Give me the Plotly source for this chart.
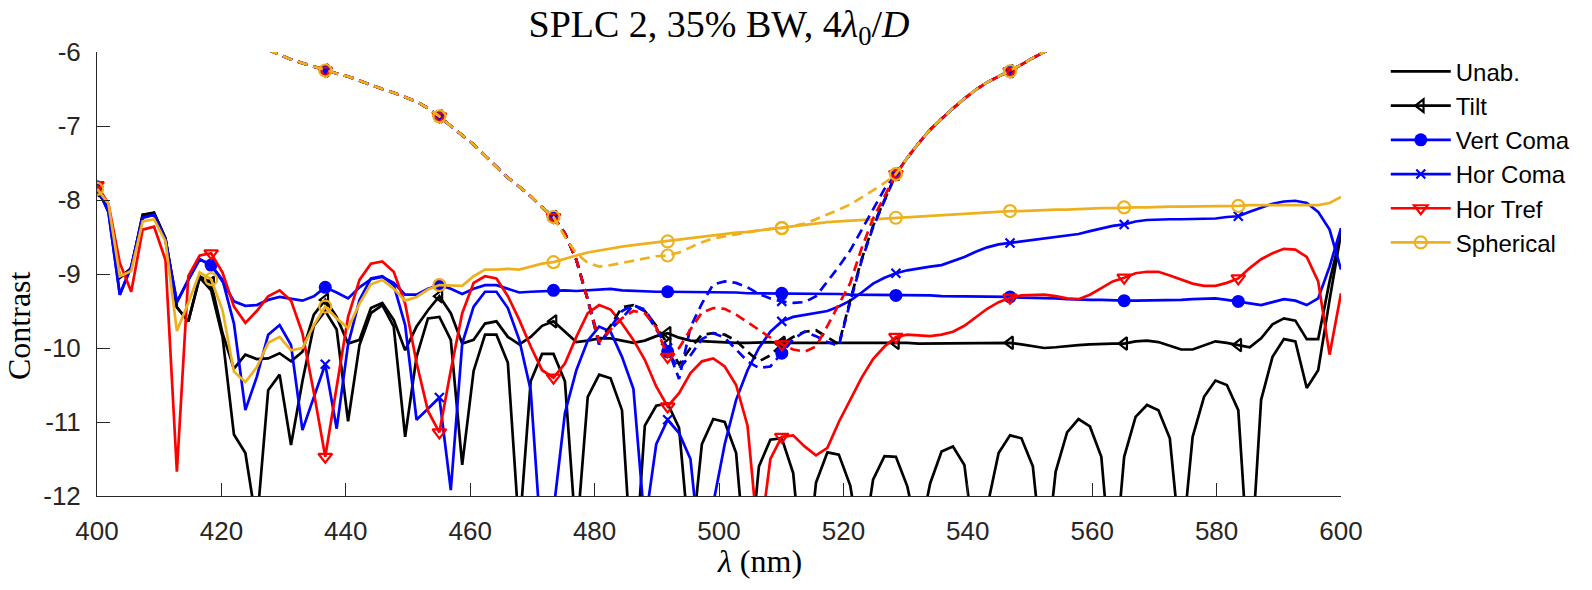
import numpy as np
import plotly.graph_objects as go

# wavelength samples (nm) and marker positions (every 10th sample)
lam = np.linspace(400, 600, 110)
marker_idx = list(range(0, 101, 10))
dash_marker_idx = list(range(20, 81, 10))

x_ticks = [400, 420, 440, 460, 480, 500, 520, 540, 560, 580, 600]
y_ticks = [-12, -11, -10, -9, -8, -7, -6]
y_ticktext = ["-12", "-11", "-10", "-9", "-8", "-7", "-6"]

unab = [
    -7.87, -8.10, -9.05, -8.92, -8.20, -8.18, -8.52, -9.45, -9.64, -9.05,
    -9.22, -9.85, -11.17, -11.42, -12.40, -10.57, -10.36, -11.31, -10.45, -9.70,
    -9.50, -9.75, -10.99, -9.96, -9.53, -9.42, -9.71, -11.20, -10.12, -9.60,
    -9.58, -9.89, -11.58, -10.31, -9.82, -9.82, -10.20, -12.50, -10.45, -10.08,
    -10.08, -10.45, -12.60, -10.66, -10.36, -10.41, -10.84, -13.30, -11.05, -10.78,
    -10.75, -11.08, -12.80, -11.30, -10.96, -11.00, -11.42, -13.20, -11.60, -11.24,
    -11.22, -11.69, -13.30, -11.82, -11.41, -11.44, -11.86, -12.80, -11.78, -11.46,
    -11.47, -11.87, -12.60, -11.83, -11.40, -11.33, -11.58, -12.80, -12.15, -11.42,
    -11.18, -11.22, -11.60, -13.10, -11.67, -11.14, -10.96, -11.06, -11.47, -13.24,
    -11.47, -10.93, -10.77, -10.84, -11.22, -12.80, -11.20, -10.66, -10.44, -10.50,
    -10.84, -13.20, -10.70, -10.12, -9.88, -9.91, -10.54, -10.30, -9.35, -8.45,
]

tilt = [
    -7.87, -8.12, -9.05, -8.93, -8.20, -8.17, -8.52, -9.45, -9.64, -9.03,
    -9.12, -9.80, -10.28, -10.09, -10.15, -10.14, -10.07, -10.18, -10.05, -9.55,
    -9.35, -9.58, -9.94, -9.89, -9.46, -9.39, -9.62, -10.03, -9.71, -9.49,
    -9.30, -9.53, -9.94, -9.89, -9.67, -9.64, -9.85, -9.95, -9.85, -9.70,
    -9.64, -9.78, -9.92, -9.90, -9.87, -9.87, -9.90, -9.93, -9.90, -9.84,
    -9.80, -9.86, -9.90, -9.91, -9.91, -9.92, -9.93, -9.93, -9.92, -9.92,
    -9.93, -9.93, -9.92, -9.92, -9.92, -9.93, -9.93, -9.93, -9.92, -9.92,
    -9.93, -9.93, -9.94, -9.94, -9.94, -9.93, -9.93, -9.93, -9.93, -9.93,
    -9.93, -9.95, -9.98, -10.00, -9.99, -9.97, -9.96, -9.95, -9.94, -9.94,
    -9.94, -9.91, -9.90, -9.92, -9.97, -10.02, -10.02, -9.97, -9.91, -9.93,
    -9.96, -9.99, -9.87, -9.68, -9.60, -9.63, -9.88, -9.88, -9.10, -8.45,
]

vert_coma = [
    -7.82, -8.16, -9.28, -8.90, -8.24, -8.20, -8.54, -9.38, -9.08, -8.80,
    -8.88, -9.10, -9.37, -9.43, -9.42, -9.35, -9.31, -9.33, -9.36, -9.30,
    -9.18, -9.25, -9.33, -9.18, -9.07, -9.04, -9.12, -9.28, -9.28, -9.20,
    -9.15, -9.20, -9.27, -9.20, -9.15, -9.15, -9.20, -9.25, -9.24, -9.23,
    -9.22, -9.22, -9.23, -9.22, -9.20, -9.20, -9.22, -9.23, -9.24, -9.24,
    -9.24, -9.24, -9.25, -9.25, -9.25, -9.25, -9.25, -9.26, -9.26, -9.26,
    -9.26, -9.27, -9.27, -9.27, -9.27, -9.27, -9.28, -9.28, -9.28, -9.28,
    -9.29, -9.29, -9.29, -9.29, -9.30, -9.30, -9.30, -9.30, -9.31, -9.31,
    -9.31, -9.32, -9.32, -9.32, -9.33, -9.34, -9.35, -9.35, -9.35, -9.36,
    -9.36, -9.36, -9.36, -9.36, -9.35, -9.35, -9.34, -9.33, -9.33, -9.35,
    -9.37, -9.39, -9.42, -9.38, -9.34, -9.36, -9.42, -9.33, -8.90, -8.38,
]

hor_coma = [
    -7.82, -8.16, -9.28, -8.90, -8.24, -8.20, -8.54, -9.38, -9.08, -8.80,
    -8.88, -9.08, -9.67, -10.84, -10.39, -9.82, -9.69, -9.96, -11.11, -10.65,
    -10.22, -11.09, -9.95, -9.35, -9.06, -9.03, -9.15, -9.69, -10.97, -10.82,
    -10.67, -11.92, -9.94, -9.44, -9.24, -9.24, -9.46, -9.89, -10.57, -12.80,
    -12.20, -10.88, -10.30, -9.90, -9.71, -9.78, -10.12, -10.55, -12.40, -11.30,
    -10.97, -11.15, -11.50, -13.00, -12.10, -11.30, -10.70, -10.30, -10.00, -9.78,
    -9.64, -9.58, -9.55, -9.53, -9.50, -9.44, -9.36, -9.25, -9.13, -9.05,
    -8.99, -8.95, -8.92, -8.90, -8.88, -8.83, -8.77, -8.70, -8.64, -8.60,
    -8.58, -8.56, -8.54, -8.52, -8.50, -8.49, -8.46, -8.42, -8.38, -8.35,
    -8.33, -8.29, -8.27, -8.26, -8.26, -8.26, -8.26, -8.26, -8.25, -8.23,
    -8.22, -8.16, -8.10, -8.05, -8.02, -8.01, -8.04, -8.16, -8.40, -8.94,
]

hor_tref = [
    -7.80, -8.05, -8.85, -9.24, -8.40, -8.36, -8.81, -11.67, -9.03, -8.75,
    -8.72, -8.98, -9.44, -9.66, -9.50, -9.30, -9.22, -9.36, -9.80, -10.60,
    -11.47, -10.50, -9.58, -9.08, -8.86, -8.83, -8.97, -9.40, -10.20, -10.85,
    -11.14, -10.30, -9.53, -9.12, -9.03, -9.06, -9.30, -9.62, -9.98, -10.30,
    -10.40, -10.21, -9.85, -9.53, -9.42, -9.48, -9.67, -9.89, -10.16, -10.52,
    -10.79, -10.61, -10.34, -10.18, -10.14, -10.25, -10.50, -11.05, -12.70, -11.50,
    -11.20, -11.18, -11.33, -11.45, -11.35, -11.00, -10.70, -10.40, -10.15, -9.98,
    -9.85, -9.82, -9.83, -9.84, -9.82, -9.78, -9.70, -9.58, -9.47, -9.38,
    -9.32, -9.29, -9.28, -9.28, -9.30, -9.33, -9.34, -9.28, -9.19, -9.10,
    -9.05, -8.99, -8.97, -8.97, -9.02, -9.08, -9.13, -9.16, -9.16, -9.12,
    -9.06, -8.92, -8.80, -8.72, -8.66, -8.67, -8.77, -9.10, -10.09, -9.26,
]

spherical = [
    -7.85, -8.05, -9.03, -8.96, -8.29, -8.26, -8.56, -9.77, -9.39, -8.98,
    -9.07, -9.49, -10.32, -10.46, -10.26, -9.93, -9.85, -10.03, -10.00, -9.69,
    -9.44, -9.60, -9.73, -9.40, -9.14, -9.08, -9.20, -9.36, -9.31, -9.21,
    -9.15, -9.16, -9.16, -9.03, -8.94, -8.94, -8.93, -8.94, -8.90, -8.86,
    -8.84, -8.79, -8.75, -8.71, -8.68, -8.66, -8.63, -8.61, -8.59, -8.57,
    -8.56, -8.54, -8.52, -8.50, -8.47, -8.46, -8.44, -8.43, -8.41, -8.39,
    -8.38, -8.36, -8.33, -8.31, -8.30, -8.29, -8.28, -8.27, -8.26, -8.25,
    -8.24, -8.23, -8.22, -8.21, -8.20, -8.19, -8.18, -8.17, -8.16, -8.16,
    -8.15, -8.15, -8.14, -8.14, -8.13, -8.13, -8.12, -8.12, -8.11, -8.11,
    -8.10, -8.10, -8.10, -8.09, -8.09, -8.09, -8.09, -8.08, -8.08, -8.08,
    -8.08, -8.07, -8.07, -8.07, -8.07, -8.07, -8.07, -8.07, -8.04, -7.96,
]

# dashed companion curves (samples 15..84)
dash_first = 15
dash_common_left = [  # samples 15..43
    -5.97, -6.04, -6.10, -6.15, -6.20, -6.25, -6.29, -6.33, -6.39, -6.44,
    -6.50, -6.55, -6.61, -6.67, -6.76, -6.87, -7.00, -7.12, -7.25, -7.40,
    -7.55, -7.70, -7.82, -7.95, -8.10, -8.23, -8.45, -8.81, -9.35,
]
dash_common_right = [  # samples 70..84
    -7.65, -7.43, -7.23, -7.05, -6.90, -6.76, -6.63, -6.51, -6.41, -6.33,
    -6.26, -6.17, -6.08, -6.00, -5.92,
]
dash_black_mid = [  # samples 44..69
    -9.90, -9.70, -9.45, -9.42, -9.50, -9.70, -9.95, -10.22, -10.00, -9.82,
    -9.80, -9.82, -9.90, -10.05, -10.18, -10.10, -9.95, -9.85, -9.78, -9.76,
    -9.85, -9.95, -9.35, -8.80, -8.35, -8.00,
]
dash_vert_mid = [  # samples 44..69
    -9.95, -9.72, -9.50, -9.42, -9.48, -9.72, -10.05, -10.28, -10.10, -9.88,
    -9.80, -9.86, -10.02, -10.18, -10.27, -10.25, -10.07, -9.88, -9.78, -9.84,
    -9.92, -9.97, -9.38, -8.82, -8.37, -8.02,
]
dash_hor_mid = [  # samples 44..69
    -9.95, -9.75, -9.60, -9.42, -9.50, -9.75, -10.00, -10.42, -9.72, -9.40,
    -9.14, -9.10, -9.12, -9.18, -9.27, -9.33, -9.37, -9.39, -9.38, -9.30,
    -9.10, -8.90, -8.68, -8.40, -8.11, -7.85,
]
dash_tref_mid = [  # samples 44..69
    -9.92, -9.75, -9.60, -9.50, -9.53, -9.72, -10.12, -10.00, -9.75, -9.52,
    -9.46, -9.47, -9.55, -9.65, -9.76, -9.86, -9.95, -10.02, -10.05, -9.98,
    -9.70, -9.40, -9.12, -8.65, -8.25, -7.95,
]
dash_sph_mid = [  # samples 41..69
    -8.50, -8.72, -8.85, -8.90, -8.88, -8.85, -8.82, -8.78, -8.76, -8.75,
    -8.71, -8.64, -8.57, -8.52, -8.49, -8.46, -8.43, -8.41, -8.39, -8.38,
    -8.35, -8.32, -8.26, -8.20, -8.13, -8.06, -7.97, -7.87, -7.77,
]

BLACK = "#000000"
BLUE = "#0000FF"
RED = "#FF0000"
ORANGE = "#EDB120"
LW = 2.7

styles = {
    "Unab.": dict(color=BLACK, symbol=None),
    "Tilt": dict(color=BLACK, symbol="triangle-left-open", size=11),
    "Vert Coma": dict(color=BLUE, symbol="circle", size=13),
    "Hor Coma": dict(color=BLUE, symbol="x-thin", size=9),
    "Hor Tref": dict(color=RED, symbol="triangle-down-open", size=12),
    "Spherical": dict(color=ORANGE, symbol="circle-open", size=12),
}


def marker_spec(st):
    sym = st["symbol"]
    if sym == "circle":
        return dict(symbol=sym, size=st["size"], color=st["color"], line=dict(width=0))
    return dict(symbol=sym, size=st["size"], color=st["color"],
                line=dict(width=2.2, color=st["color"]))


fig = go.Figure()


def add_series(name, xs, ys, idx, dash):
    st = styles[name]
    fig.add_trace(go.Scatter(
        x=xs, y=ys, mode="lines", showlegend=False, hoverinfo="skip",
        line=dict(color=st["color"], width=LW, dash=dash)))
    if st["symbol"] is not None and idx:
        fig.add_trace(go.Scatter(
            x=[xs[k] for k in idx], y=[ys[k] for k in idx], mode="markers",
            showlegend=False, marker=marker_spec(st), hoverinfo="skip"))


solid = [("Unab.", unab), ("Tilt", tilt), ("Vert Coma", vert_coma),
         ("Hor Coma", hor_coma), ("Hor Tref", hor_tref), ("Spherical", spherical)]
for name, vals in solid:
    add_series(name, list(lam), vals, marker_idx, "solid")

# dashed companions
lam_d = list(lam[dash_first:85])
d_idx = [k - dash_first for k in dash_marker_idx]
dashed = [
    ("Tilt", dash_common_left + dash_black_mid + dash_common_right),
    ("Vert Coma", dash_common_left + dash_vert_mid + dash_common_right),
    ("Hor Coma", dash_common_left + dash_hor_mid + dash_common_right),
    ("Hor Tref", dash_common_left + dash_tref_mid + dash_common_right),
    ("Spherical", dash_common_left[:26] + dash_sph_mid + dash_common_right),
]
for name, vals in dashed:
    add_series(name, lam_d, vals, d_idx, "10px,6px")

# legend entries
for name, _ in solid:
    st = styles[name]
    kw = dict(x=[None], y=[None], name=name,
              line=dict(color=st["color"], width=LW))
    if st["symbol"] is None:
        fig.add_trace(go.Scatter(mode="lines", **kw))
    else:
        fig.add_trace(go.Scatter(mode="lines+markers", marker=marker_spec(st), **kw))

AX = "#262626"
fig.update_layout(
    width=1592, height=590,
    margin=dict(l=97, r=251, t=52, b=94, autoexpand=False),
    paper_bgcolor="white", plot_bgcolor="white",
    font=dict(family="Liberation Sans", color=AX),
    title=dict(text="SPLC 2, 35% BW, 4<i>λ</i><sub>0</sub>/<i>D</i>",
               x=0.5, xref="paper", y=1 - 24 / 590, yanchor="middle",
               font=dict(family="Liberation Serif", size=38, color="black")),
    legend=dict(x=1.036, xanchor="left", y=1.006, yanchor="top",
                font=dict(family="Liberation Sans", size=24, color="black"),
                itemwidth=60, bgcolor="rgba(0,0,0,0)", tracegroupgap=0),
    showlegend=True,
)
fig.update_xaxes(range=[400, 600], tickvals=x_ticks, ticks="inside", ticklen=13,
                 tickcolor=AX, showline=True, linecolor=AX, linewidth=1,
                 showgrid=False, zeroline=False, tickfont=dict(size=26, color=AX),
                 ticklabelstandoff=12)
fig.update_yaxes(range=[-12, -6], tickvals=y_ticks, ticktext=y_ticktext, ticks="inside",
                 ticklen=13, tickcolor=AX, showline=True, linecolor=AX, linewidth=1,
                 showgrid=False, zeroline=False, tickfont=dict(size=26, color=AX),
                 ticklabelstandoff=10)

fig.add_annotation(text="<i>λ</i> (nm)", xref="paper", yref="paper",
                   x=(759 - 97) / 1244, y=(496 - 561) / 444, showarrow=False,
                   xanchor="center", yanchor="middle",
                   font=dict(family="Liberation Serif", size=32, color="black"))
fig.add_annotation(text="Contrast", xref="paper", yref="paper", textangle=-90,
                   x=(19 - 97) / 1244, y=(496 - 326) / 444, showarrow=False,
                   xanchor="center", yanchor="middle",
                   font=dict(family="Liberation Serif", size=32, color="black"))

fig.write_html("out.html")
